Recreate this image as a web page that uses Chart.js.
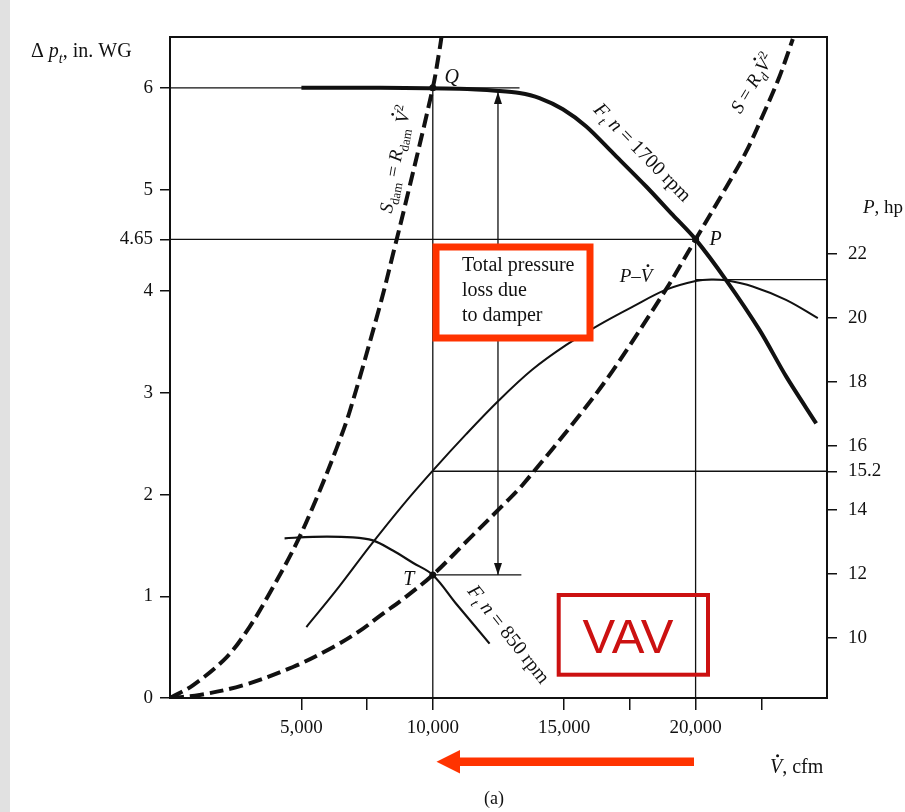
<!DOCTYPE html>
<html>
<head>
<meta charset="utf-8">
<title>Fan and system curves - VAV</title>
<script src="https://cdn.jsdelivr.net/npm/chart.js@4.4.1/dist/chart.umd.min.js"></script>
<style>
  html, body { margin: 0; padding: 0; background: #fff; }
  #wrap { position: relative; width: 905px; height: 812px; overflow: hidden; }
  #strip { position: absolute; left: 0; top: 0; width: 10px; height: 812px; background: #e1e1e1; }
  canvas { position: absolute; left: 0; top: 0; }
</style>
</head>
<body>
<div id="wrap">
  <div id="strip"></div>
  <canvas id="fanChart" width="905" height="812"></canvas>
</div>
<script>
// ---- data (flow in cfm, pressure in in. WG, power in hp) ----
const flowFan1700 = [5000, 8000, 11000, 12500, 13300, 14060, 14950, 15840, 16850, 18120, 19130, 20000, 21160, 22430, 23450, 24590];
const dpFan1700   = [6.0, 6.0, 5.99, 5.97, 5.95, 5.90, 5.79, 5.62, 5.36, 5.03, 4.75, 4.51, 4.11, 3.62, 3.16, 2.70];

const flowFan850 = [4360, 5440, 6960, 7720, 8480, 9240, 10000, 10880, 12160];
const dpFan850   = [1.57, 1.585, 1.58, 1.55, 1.45, 1.33, 1.21, 0.93, 0.535];

const flowSystem = [0, 1130, 2780, 4680, 6200, 7220, 8000, 9000, 10000, 11400, 12800, 13430, 15580, 16850, 18880, 19390, 20000, 21160, 21920, 22560, 23190, 23700];
const dpSystem   = [0, 0.03, 0.125, 0.305, 0.50, 0.66, 0.81, 1.0, 1.21, 1.57, 1.93, 2.10, 2.78, 3.22, 4.02, 4.24, 4.51, 5.02, 5.37, 5.73, 6.11, 6.48];

const flowDamper = [0, 870, 2150, 3030, 3790, 4810, 5570, 6330, 6840, 7980, 8500, 8950, 10000, 10260, 10330];
const dpDamper   = [0, 0.125, 0.40, 0.70, 1.03, 1.52, 1.96, 2.45, 2.82, 3.85, 4.38, 4.85, 6.0, 6.38, 6.5];

const flowPower = [5190, 6330, 7600, 8870, 10000, 11270, 12520, 13790, 15080, 16330, 17610, 18880, 20000, 20600, 21160, 22170, 23440, 24650];
const hpPower   = [10.33, 11.48, 12.85, 14.15, 15.22, 16.36, 17.42, 18.38, 19.15, 19.78, 20.35, 20.88, 21.15, 21.2, 21.17, 20.98, 20.56, 19.99];

// operating points Q, P, T  [flow, dp]
const qPoint = [10000, 6.0];
const pPoint = [20000, 4.51];
const tPoint = [10000, 1.21];
const arrowFlow = 12480;       // damper loss arrow
const arrowTop = 5.96;
const tLineEnd = 13370;
const sixLineEnd = 13300;
const powerAtT = 15.2;         // hp
const powerAtP = 21.19;        // hp

// ticks
const xTicks = [5000, 7500, 10000, 15000, 17500, 20000, 22500];
const xTickLabels = { 5000: '5,000', 10000: '10,000', 15000: '15,000', 20000: '20,000' };
const yTicks = [0, 1, 2, 3, 4, 4.51, 5, 6];
const yTickLabels = { 0: '0', 1: '1', 2: '2', 3: '3', 4: '4', 4.51: '4.65', 5: '5', 6: '6' };
const hpTicks = [10, 12, 14, 15.2, 16, 18, 20, 22];

const INK = '#111';
const SERIF = '"Liberation Serif", "Times New Roman", serif';
const pts = (xs, ys) => xs.map((x, i) => ({ x: x, y: ys[i] }));

function richText(ctx, segs, x, y, size, align) {
    const fontOf = s => (s.i ? 'italic ' : '') + Math.round((s.sub || s.sup) ? size * 0.68 : size) + 'px ' + SERIF;
    let total = 0;
    const widths = segs.map(s => { ctx.font = fontOf(s); const w = ctx.measureText(s.t).width; total += w; return w; });
    let cx = align === 'center' ? x - total / 2 : x;
    ctx.textAlign = 'left';
    ctx.textBaseline = 'alphabetic';
    segs.forEach((s, k) => {
        ctx.font = fontOf(s);
        const dy = s.sub ? size * 0.28 : (s.sup ? -size * 0.38 : 0);
        ctx.fillText(s.t, cx, y + dy);
        if (s.dot) {
            ctx.beginPath();
            ctx.arc(cx + widths[k] * 0.62, y - size * 0.86, size * 0.075, 0, Math.PI * 2);
            ctx.fill();
        }
        cx += widths[k];
    });
}

function rotatedRich(ctx, segs, cx, cy, angleDeg, size) {
    ctx.save();
    ctx.translate(cx, cy);
    ctx.rotate(angleDeg * Math.PI / 180);
    richText(ctx, segs, 0, size * 0.33, size, 'center');
    ctx.restore();
}

// frame, boxes, arrows and labels
const annotations = {
    id: 'annotations',
    beforeDatasetsDraw(chart) {
        const { ctx, chartArea: a } = chart;
        ctx.save();
        ctx.strokeStyle = INK;
        ctx.lineWidth = 2;
        ctx.strokeRect(a.left, a.top, a.right - a.left, a.bottom - a.top);
        ctx.restore();
    },
    afterDatasetsDraw(chart) {
        const { ctx } = chart;
        const xs = chart.scales.x, ys = chart.scales.y;
        ctx.save();
        ctx.fillStyle = INK;

        // arrow heads on the damper-loss arrow
        const ax = xs.getPixelForValue(arrowFlow);
        const aTop = ys.getPixelForValue(arrowTop);
        const aBot = ys.getPixelForValue(tPoint[1]);
        ctx.beginPath();
        ctx.moveTo(ax, aTop); ctx.lineTo(ax - 4, aTop + 12); ctx.lineTo(ax + 4, aTop + 12); ctx.closePath(); ctx.fill();
        ctx.beginPath();
        ctx.moveTo(ax, aBot); ctx.lineTo(ax - 4, aBot - 12); ctx.lineTo(ax + 4, aBot - 12); ctx.closePath(); ctx.fill();

        // "Total pressure loss due to damper" box
        ctx.fillStyle = '#fff';
        ctx.fillRect(436, 247, 154, 91);
        ctx.strokeStyle = 'rgb(255,51,0)';
        ctx.lineWidth = 7;
        ctx.strokeRect(436, 247, 154, 91);
        ctx.fillStyle = INK;
        ctx.font = '20px ' + SERIF;
        ctx.textAlign = 'left';
        ctx.textBaseline = 'alphabetic';
        ctx.fillText('Total pressure', 462, 271);
        ctx.fillText('loss due', 462, 296);
        ctx.fillText('to damper', 462, 321);

        // VAV box
        ctx.strokeStyle = 'rgb(204,17,17)';
        ctx.lineWidth = 4;
        ctx.strokeRect(558.7, 595, 149.3, 79.7);
        ctx.fillStyle = 'rgb(204,17,17)';
        ctx.font = '49px "Liberation Sans", Arial, sans-serif';
        ctx.textAlign = 'center';
        ctx.fillText('VAV', 628, 653);

        // red arrow (flow reduction)
        ctx.fillStyle = 'rgb(255,51,0)';
        ctx.fillRect(458, 757.5, 236, 8.5);
        ctx.beginPath();
        ctx.moveTo(436.5, 761.7); ctx.lineTo(460, 750); ctx.lineTo(460, 773.5); ctx.closePath(); ctx.fill();

        // point labels
        ctx.fillStyle = INK;
        const lbl = (t, p, dx, dy) => richText(ctx, [{ t: t, i: 1 }], xs.getPixelForValue(p[0]) + dx, ys.getPixelForValue(p[1]) + dy, 20, 'center');
        lbl('Q', qPoint, 19, -5);
        lbl('P', pPoint, 20, 6);
        lbl('T', tPoint, -24, 10);
        richText(ctx, [{ t: 'P', i: 1 }, { t: '–' }, { t: 'V', i: 1, dot: 1 }], 636, 282, 19, 'center');

        // curve labels
        rotatedRich(ctx, [{ t: 'F', i: 1 }, { t: 't', i: 1, sub: 1 }, { t: ' n', i: 1 }, { t: ' = 1700 rpm' }], 643, 152, 45.5, 20);
        rotatedRich(ctx, [{ t: 'F', i: 1 }, { t: 't', i: 1, sub: 1 }, { t: ' n', i: 1 }, { t: ' = 850 rpm' }], 509, 634, 51.6, 20);
        rotatedRich(ctx, [{ t: 'S', i: 1 }, { t: ' = ' }, { t: 'R', i: 1 }, { t: 'd', i: 1, sub: 1 }, { t: 'V', i: 1, dot: 1 }, { t: '2', sup: 1 }], 752, 83, -59, 19);
        rotatedRich(ctx, [{ t: 'S', i: 1 }, { t: 'dam', sub: 1 }, { t: ' = ' }, { t: 'R', i: 1 }, { t: 'dam', sub: 1 }, { t: ' ' }, { t: 'V', i: 1, dot: 1 }, { t: '2', sup: 1 }], 395, 159, -80, 19);

        // axis titles
        richText(ctx, [{ t: 'Δ ' }, { t: 'p', i: 1 }, { t: 't', i: 1, sub: 1 }, { t: ', in. WG' }], 31, 57, 20, 'left');
        richText(ctx, [{ t: 'P', i: 1 }, { t: ', hp' }], 863, 213, 19, 'left');
        richText(ctx, [{ t: 'V', i: 1, dot: 1 }, { t: ', cfm' }], 770, 773, 20, 'left');
        richText(ctx, [{ t: '(a)' }], 494, 804, 18, 'center');
        ctx.restore();
    }
};

const thin = { borderColor: INK, borderWidth: 1.3, pointRadius: 0, tension: 0 };
const curve = { borderColor: INK, pointRadius: 0, tension: 0.35 };

new Chart(document.getElementById('fanChart'), {
    type: 'line',
    data: {
        datasets: [
            { ...thin, data: [{ x: 0, y: qPoint[1] }, { x: sixLineEnd, y: qPoint[1] }] },
            { ...thin, data: [{ x: 0, y: pPoint[1] }, { x: pPoint[0], y: pPoint[1] }] },
            { ...thin, data: [{ x: qPoint[0], y: qPoint[1] }, { x: qPoint[0], y: 0 }] },
            { ...thin, data: [{ x: pPoint[0], y: pPoint[1] }, { x: pPoint[0], y: 0 }] },
            { ...thin, data: [{ x: tPoint[0], y: tPoint[1] }, { x: tLineEnd, y: tPoint[1] }] },
            { ...thin, data: [{ x: arrowFlow, y: arrowTop }, { x: arrowFlow, y: tPoint[1] }] },
            { ...thin, yAxisID: 'y2', data: [{ x: qPoint[0], y: powerAtT }, { x: 25000, y: powerAtT }] },
            { ...thin, yAxisID: 'y2', data: [{ x: pPoint[0], y: powerAtP }, { x: 25000, y: powerAtP }] },
            { ...curve, label: 'P-V', yAxisID: 'y2', borderWidth: 2, data: pts(flowPower, hpPower) },
            { ...curve, label: 'Fan 850 rpm', borderWidth: 2.2, data: pts(flowFan850, dpFan850) },
            { ...curve, label: 'Fan 1700 rpm', borderWidth: 4, tension: 0.3, data: pts(flowFan1700, dpFan1700) },
            { ...curve, label: 'S', borderWidth: 4, borderDash: [14, 6], data: pts(flowSystem, dpSystem) },
            { ...curve, label: 'S dam', borderWidth: 4, borderDash: [14, 6], data: pts(flowDamper, dpDamper) },
            { label: 'points', data: [qPoint, pPoint, tPoint].map(p => ({ x: p[0], y: p[1] })), showLine: false,
              pointRadius: 3.5, pointBackgroundColor: INK, pointBorderWidth: 0 }
        ]
    },
    options: {
        responsive: false,
        devicePixelRatio: 1,
        animation: false,
        events: [],
        layout: { padding: { top: 37, left: 0, right: 0, bottom: 0 } },
        plugins: { legend: { display: false }, tooltip: { enabled: false } },
        scales: {
            x: {
                type: 'linear', min: 0, max: 25000,
                afterBuildTicks: s => { s.ticks = xTicks.map(v => ({ value: v })); },
                afterFit: s => { s.height = 114; },
                ticks: { callback: v => xTickLabels[v] || '', autoSkip: false, maxRotation: 0, padding: 7,
                         color: INK, font: { family: SERIF, size: 19 } },
                grid: { drawOnChartArea: false, drawTicks: true, tickLength: 12, color: INK, lineWidth: 1.5 },
                border: { display: true, color: INK, width: 2 }
            },
            y: {
                type: 'linear', position: 'left', min: 0, max: 6.5,
                afterBuildTicks: s => { s.ticks = yTicks.map(v => ({ value: v })); },
                afterFit: s => { s.width = 170; },
                ticks: { callback: v => yTickLabels[v] || '', autoSkip: false, padding: 7,
                         color: INK, font: { family: SERIF, size: 19 } },
                grid: { drawOnChartArea: false, drawTicks: true, tickLength: 10, color: INK, lineWidth: 1.5 },
                border: { display: true, color: INK, width: 2 }
            },
            y2: {
                type: 'linear', position: 'right', min: 8.11, max: 28.78,
                afterBuildTicks: s => { s.ticks = hpTicks.map(v => ({ value: v })); },
                afterFit: s => { s.width = 78; },
                ticks: { callback: v => String(v), autoSkip: false, padding: 11,
                         color: INK, font: { family: SERIF, size: 19 } },
                grid: { drawOnChartArea: false, drawTicks: true, tickLength: 10, color: INK, lineWidth: 1.5 },
                border: { display: true, color: INK, width: 2 }
            }
        }
    },
    plugins: [annotations]
});
</script>
</body>
</html>
